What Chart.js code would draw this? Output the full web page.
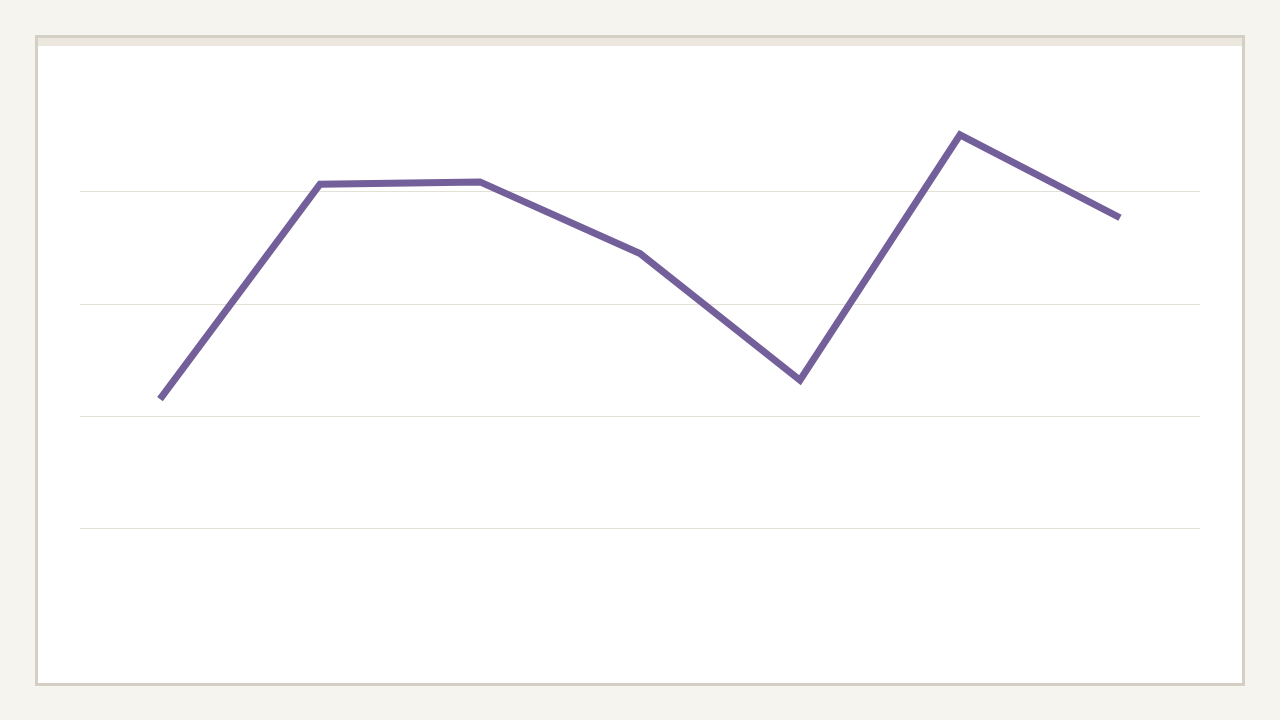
<!DOCTYPE html>
<html>
<head>
<meta charset="utf-8">
<script src="https://cdn.jsdelivr.net/npm/chart.js@4"></script>
<style>
  html, body { margin: 0; padding: 0; background: #f5f4ef; }
  .card {
    position: absolute; left: 35px; top: 35px;
    width: 1204px; height: 645px;
    border: 3px solid #d3cfc5; background: #fff;
  }
  .strip { height: 8px; background: #ebe7de; }
  .wrap { position: absolute; left: 0; top: 0; width: 1280px; height: 720px; }
</style>
</head>
<body>
<div class="card"><div class="strip"></div></div>
<div class="wrap"><canvas id="chart" width="1280" height="720"></canvas></div>
<script>
const categories = ['1', '2', '3', '4', '5', '6', '7'];
const values = [2.15, 4.07, 4.09, 3.45, 2.32, 4.51, 3.77];
const yTicks = [0, 1, 2, 3, 4, 5];

const ctx = document.getElementById("chart");
new Chart(ctx, {
  type: 'line',
  data: {
    labels: categories,
    datasets: [{
      label: '',
      data: values,
      borderColor: '#735f9a',
      borderWidth: 7,
      borderCapStyle: 'butt',
      borderJoinStyle: 'miter',
      pointRadius: 0,
      tension: 0,
      fill: false
    }]
  },
  options: {
    responsive: false,
    animation: false,
    layout: {
      padding: { left: 80, right: 80, top: 80, bottom: 80 }
    },
    plugins: {
      legend: { display: false },
      tooltip: { enabled: false }
    },
    scales: {
      x: {
        display: false,
        offset: true,
        grid: { display: false },
        ticks: { display: false },
        border: { display: false }
      },
      y: {
        min: yTicks[0],
        max: yTicks[yTicks.length - 1],
        afterBuildTicks: (axis) => {
          axis.ticks = yTicks.map(v => ({ value: v }));
        },
        grid: {
          drawTicks: false,
          color: (c) => (c.tick && (c.tick.value === 0 || c.tick.value === 5)) ? 'rgba(0,0,0,0)' : '#e2e1d5'
        },
        ticks: { display: false },
        border: { display: false }
      }
    }
  }
});
</script>
</body>
</html>
